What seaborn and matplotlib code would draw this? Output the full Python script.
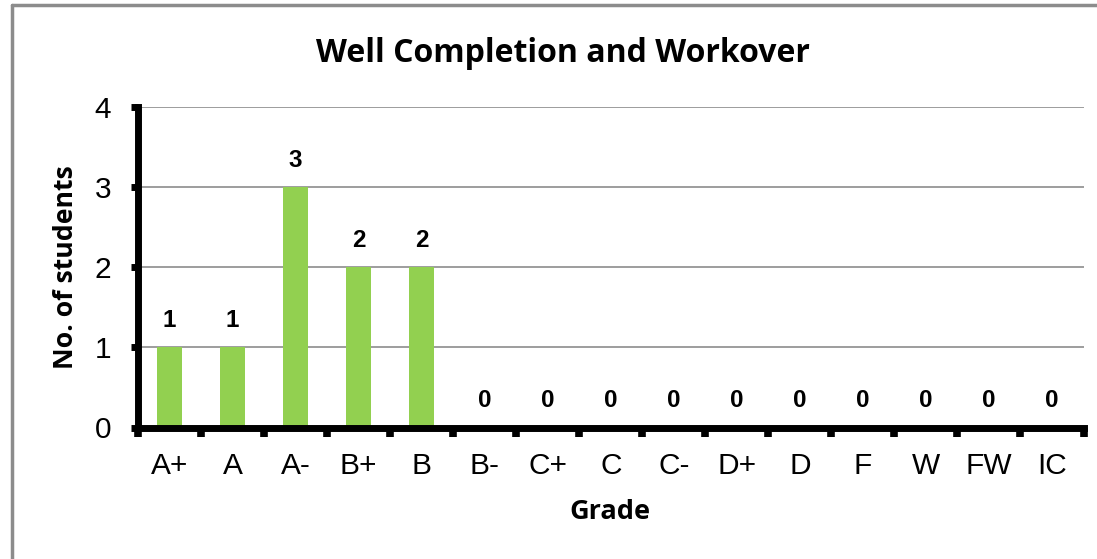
import matplotlib
matplotlib.use("Agg")
import matplotlib.pyplot as plt
import seaborn as sns
import pandas as pd
from matplotlib.lines import Line2D

grades = ["A+", "A", "A-", "B+", "B", "B-", "C+", "C", "C-", "D+", "D", "F", "W", "FW", "IC"]
counts = [1, 1, 3, 2, 2, 0, 0, 0, 0, 0, 0, 0, 0, 0, 0]
title = "Well Completion and Workover"
xlabel = "Grade"
ylabel = "No. of students"

sns.set_style("white")
plt.rcParams["font.family"] = ["Liberation Sans", "DejaVu Sans"]
plt.rcParams["text.color"] = "black"
plt.rcParams["xtick.color"] = "black"
plt.rcParams["ytick.color"] = "black"
plt.rcParams["axes.labelcolor"] = "black"

df = pd.DataFrame({"grade": grades, "count": counts})

fig = plt.figure(figsize=(10.97, 5.59), dpi=100)
W, H = 1097, 559
x0, x1, y0, y1 = 138, 1083.5, 106.7, 427.5
ax = fig.add_axes([x0 / W, 1 - y1 / H, (x1 - x0) / W, (y1 - y0) / H])

sns.barplot(data=df, x="grade", y="count", color="#92D050", width=0.4,
            saturation=1, linewidth=0, ax=ax, zorder=3)

ax.set_ylim(0, 4)
ax.set_xlim(-0.5, len(grades) - 0.5)
ax.set_yticks([0, 1, 2, 3, 4])
ax.yaxis.grid(True, color="#8c8c8c", linewidth=1.2, zorder=0)
ax.set_axisbelow(True)

for s in ["top", "right"]:
    ax.spines[s].set_visible(False)
for s in ["left", "bottom"]:
    ax.spines[s].set_color("black")
    ax.spines[s].set_linewidth(5)
    ax.spines[s].set_zorder(5)
    ax.spines[s].set_capstyle("projecting")

ax.tick_params(axis="y", direction="out", length=5.4, width=5, color="black",
               labelsize=21.5, pad=14, left=True)
ax.set_xticks(range(len(grades)))
ax.set_xticklabels(grades)
ax.tick_params(axis="x", which="major", length=0, labelsize=21.5, pad=18)
ax.set_xticks([i - 0.5 for i in range(len(grades) + 1)], minor=True)
ax.tick_params(axis="x", which="minor", direction="out", length=6.5, width=5.5,
               color="black", bottom=True)

for i, v in enumerate(counts):
    ax.annotate(str(v), (i, v), xytext=(0, 11), textcoords="offset points",
                ha="center", va="bottom", fontsize=17.5, fontweight="bold")

ax.set_xlabel("")
ax.set_ylabel("")
lab_font = ["Open Sans", "DejaVu Sans"]
fig.text(610 / W, 1 - 512 / H, xlabel, ha="center", va="center",
         fontsize=19.5, fontweight="bold", family=lab_font)
fig.text(66 / W, 1 - 267 / H, ylabel, ha="center", va="center", rotation=90,
         fontsize=19.2, fontweight="bold", family=lab_font)
fig.text(563 / W, 1 - 53 / H, title, ha="center", va="center",
         fontsize=23, fontweight="bold", family=lab_font)

# outer border (top and left only visible)
fig.add_artist(Line2D([12 / W, 1], [1 - 5 / H, 1 - 5 / H], transform=fig.transFigure,
                      color="#8c8c8c", linewidth=2.5))
fig.add_artist(Line2D([12 / W, 12 / W], [0, 1 - 5 / H], transform=fig.transFigure,
                      color="#8c8c8c", linewidth=2.5))

fig.savefig("out.png", dpi=100)
